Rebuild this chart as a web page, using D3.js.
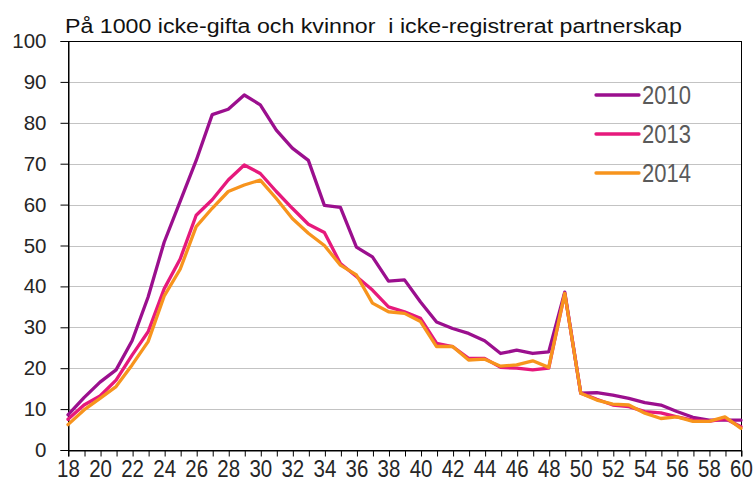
<!DOCTYPE html>
<html>
<head>
<meta charset="utf-8">
<script src="https://cdn.jsdelivr.net/npm/d3@7"></script>
<style>
  body { margin: 0; background: #fff; }
  svg { display: block; font-family: "Liberation Sans", Arial, sans-serif; }
</style>
</head>
<body>
<div id="chart"></div>
<script>

var title = "På 1000 icke-gifta och kvinnor\u00a0 i icke-registrerat partnerskap";

var ages = d3.range(18, 61);

var series2010 = [8.6, 12.8, 16.6, 19.6, 26.7, 37.4, 50.8, 60.8, 70.8, 82.0, 83.3, 86.8, 84.4,
  78.2, 73.8, 70.8, 59.8, 59.3, 49.6, 47.2, 41.3, 41.6, 36.2, 31.3, 29.7, 28.5, 26.7, 23.6,
  24.4, 23.6, 24.0, 38.6, 13.9, 14.0, 13.4, 12.6, 11.6, 11.0, 9.4, 8.0, 7.3, 7.3, 7.3];

var series2013 = [7.5, 11.0, 13.2, 17.1, 23.2, 28.9, 39.4, 46.7, 57.4, 61.2, 66.0, 69.7, 67.6,
  63.2, 59.1, 55.2, 53.2, 45.6, 42.4, 39.1, 35.0, 33.8, 32.2, 26.1, 25.3, 22.4, 22.4, 20.2,
  20.0, 19.6, 20.0, 38.3, 13.9, 12.4, 11.0, 10.6, 9.4, 9.1, 8.1, 7.3, 7.0, 7.7, 5.7];

var series2014 = [6.2, 9.8, 12.6, 15.5, 20.8, 26.5, 37.6, 44.2, 54.6, 59.1, 63.2, 64.8, 66.0,
  61.5, 56.6, 53.0, 50.0, 45.2, 42.8, 35.9, 33.8, 33.4, 31.4, 25.3, 25.3, 22.0, 22.2, 20.5,
  20.8, 21.8, 20.2, 38.3, 13.9, 12.2, 11.2, 11.0, 9.0, 7.7, 8.1, 7.0, 7.0, 8.1, 5.3];

var seriesNames  = ["2010", "2013", "2014"];
var seriesColors = ["#9b0f8e", "#e6197c", "#f7941d"];

var yTicks = d3.range(0, 101, 10);
var xLabels = d3.range(18, 61, 2);


var margin = {top: 41, right: 15, bottom: 33, left: 68};
var svgWidth  = 756;
var svgHeight = 483;
var width  = svgWidth  - margin.left - margin.right;
var height = svgHeight - margin.top  - margin.bottom;

var svg = d3.select("#chart")
  .append("svg")
    .attr("width", svgWidth)
    .attr("height", svgHeight);

var g = svg.append("g")
  .attr("transform", "translate(" + margin.left + "," + margin.top + ")");

var x = d3.scaleLinear().domain([18, 60]).range([0, width]);
var y = d3.scaleLinear().domain([0, 100]).range([height, 0]);

// gridlines
g.append("g")
  .attr("class", "grid")
  .selectAll("line")
  .data(yTicks.filter(function(d){ return d > 0 && d < 100; }))
  .enter()
  .append("line")
    .attr("x1", 0)
    .attr("x2", width)
    .attr("y1", function(d){ return Math.round(y(d)) + 0.5; })
    .attr("y2", function(d){ return Math.round(y(d)) + 0.5; })
    .attr("stroke", "#c3c3c3")
    .attr("stroke-width", 1.2);

// plot frame
g.append("rect")
  .attr("x", 0.5)
  .attr("y", 0.5)
  .attr("width", width)
  .attr("height", height)
  .attr("fill", "none")
  .attr("stroke", "#000")
  .attr("stroke-width", 1);

// y axis
var yAxis = d3.axisLeft(y)
  .tickValues(yTicks)
  .tickSize(8)
  .tickPadding(14)
  .tickFormat(d3.format("d"));

var yG = g.append("g").attr("transform", "translate(0.5,0)").call(yAxis);
yG.select(".domain").attr("stroke", "#000");
yG.selectAll(".tick line").attr("stroke", "#000");
yG.selectAll("text")
  .attr("font-size", 20.5)
  .attr("fill", "#262626")
  .attr("font-family", "Liberation Sans, Arial, sans-serif");

// x axis
var xAxis = d3.axisBottom(x)
  .tickValues(ages)
  .tickSize(6)
  .tickPadding(4)
  .tickFormat(function(d){ return d % 2 == 0 ? d : ""; });

var xG = g.append("g").attr("transform", "translate(0," + (height + 0.5) + ")").call(xAxis);
xG.select(".domain").attr("stroke", "#000");
xG.selectAll(".tick line").attr("stroke", "#000").attr("transform", "translate(0.5,0)");
xG.selectAll("text")
  .attr("font-size", 20.5)
  .attr("fill", "#262626")
  .attr("font-family", "Liberation Sans, Arial, sans-serif")
  .attr("transform", "scale(1,1.2)")
  .attr("dy", "0.6em");

// lines
var line = d3.line()
  .x(function(d){ return x(d[0]); })
  .y(function(d){ return y(d[1]); });

var allSeries = [series2010, series2013, series2014];

g.append("g")
  .attr("class", "lines")
  .selectAll("path")
  .data(allSeries)
  .enter()
  .append("path")
    .attr("d", function(s){ return line(d3.zip(ages, s)); })
    .attr("fill", "none")
    .attr("stroke", function(d, i){ return seriesColors[i]; })
    .attr("stroke-width", 3.3)
    .attr("stroke-linejoin", "round")
    .attr("stroke-linecap", "round");

// legend
var legend = svg.append("g")
  .attr("class", "legend")
  .attr("transform", "translate(596,95)");

var legendItems = legend.selectAll("g")
  .data(seriesNames)
  .enter()
  .append("g")
    .attr("transform", function(d, i){ return "translate(0," + (i * 39) + ")"; });

legendItems.append("line")
  .attr("x1", 0)
  .attr("x2", 43)
  .attr("stroke", function(d, i){ return seriesColors[i]; })
  .attr("stroke-width", 3.3)
  .attr("stroke-linecap", "round");

legendItems.append("text")
  .attr("x", 46)
  .attr("y", 0)
  .attr("dy", "0.36em")
  .attr("font-size", 22)
  .attr("fill", "#5a5a5a")
  .attr("transform", "scale(1,1.15)")
  .text(function(d){ return d; });

// title
svg.append("text")
  .attr("x", 65)
  .attr("y", 33)
  .attr("font-size", 20)
  .attr("fill", "#111")
  .attr("textLength", 617)
  .attr("lengthAdjust", "spacingAndGlyphs")
  .text(title);

</script>
</body>
</html>
